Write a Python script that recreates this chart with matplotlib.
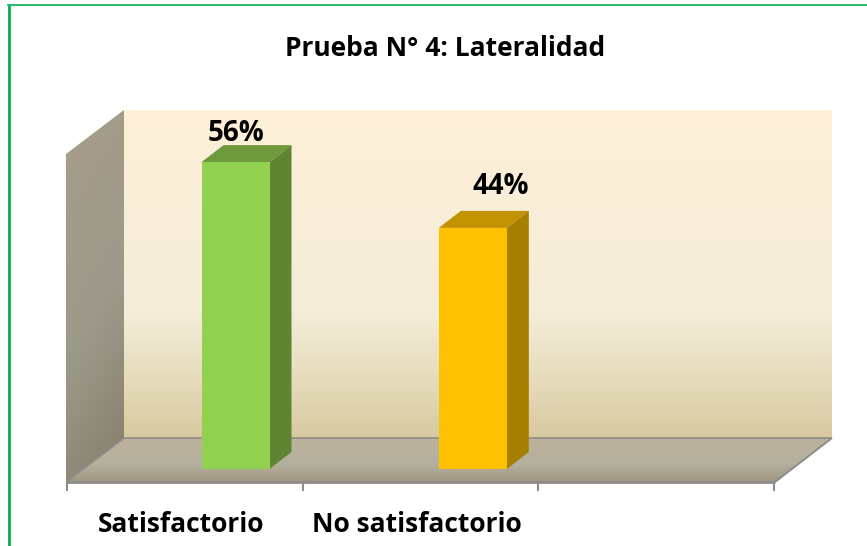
import numpy as np
import matplotlib
matplotlib.use('Agg')
import matplotlib.pyplot as plt
from matplotlib.colors import LinearSegmentedColormap
from matplotlib.patches import Polygon

categorias = ['Satisfactorio', 'No satisfactorio']
valores = [56, 44]
colores_frente = ['#92d050', '#ffc000']
colores_techo = ['#6f9a3c', '#c29200']
colores_lado = ['#5f8532', '#a67f00']
titulo = 'Prueba N° 4: Lateralidad'

plt.rcParams['font.family'] = ['Open Sans', 'DejaVu Sans']

# scale of the pseudo 3D chart, in pixels of the 867x546 picture
X0, PX_CAT = 67, 235.67
Y0, PX_PCT = 469, 5.48
W, H = 867, 546


def data(px, py):
    return (px - X0) / PX_CAT, (Y0 - py) / PX_PCT


def dx(p):
    return p / PX_CAT


def dy(p):
    return p / PX_PCT


fig = plt.figure(figsize=(W / 100, H / 100), dpi=100)
ax = fig.add_axes([0, 0, 1, 1])
ax.axis('off')
xlim = (data(0, 0)[0], data(W, 0)[0])
ylim = (data(0, H)[1], data(0, 0)[1])


def gradient(puntos, stops, angulo=False, zorder=1):
    poly = Polygon([data(*p) for p in puntos], closed=True, fc='none', ec='none',
                   transform=ax.transData)
    ax.add_patch(poly)
    cmap = LinearSegmentedColormap.from_list('g', stops)
    xs = [p[0] for p in puntos]
    ys = [p[1] for p in puntos]
    g = np.linspace(0, 1, 200)
    img = g[:, None] if not angulo else (g[:, None] * 0.8 + g[None, :] * 0.2)
    x1, y1 = data(min(xs), min(ys))
    x2, y2 = data(max(xs), max(ys))
    im = ax.imshow(img, cmap=cmap, vmin=0, vmax=1, aspect='auto',
                   extent=(x1, x2, y2, y1), zorder=zorder, interpolation='bilinear')
    im.set_clip_path(poly)


# back wall, left wall and floor
gradient([(124, 110), (832, 110), (832, 438), (124, 438)],
         [(0, '#fef0d9'), (0.62, '#f3ecd8'), (0.82, '#e6dcbc'), (1, '#d8c9a1')])
gradient([(66, 154), (124, 110), (124, 438), (66, 482)],
         [(0, '#a89e8b'), (0.55, '#9d998a'), (1, '#857d69')], angulo=True)
gradient([(66, 482), (124, 438), (832, 438), (775, 482)],
         [(0, '#bdb29b'), (0.6, '#b3b09e'), (1, '#a0967f')])

# axis lines
gris = '#8c8c8c'
for a, b, lw in [((66, 482), (775, 482), 2), ((124, 438), (832, 438), 1.2),
                 ((66, 482), (124, 438), 1.2), ((775, 482), (832, 438), 1.4)]:
    (xa, ya), (xb, yb) = data(*a), data(*b)
    ax.plot([xa, xb], [ya, yb], color=gris, lw=lw, zorder=2, solid_capstyle='butt')
ticks = np.arange(len(categorias) + 2)
ax.vlines(ticks, data(0, 482)[1], data(0, 491)[1], color=gris, lw=1.5, zorder=2)

# bars with their depth faces
pos = np.array([0.715, 1.722])
ancho = dx(68)
prof_x, prof_y = dx(22), dy(17)
ax.bar(pos, valores, width=ancho, color=colores_frente, zorder=4)
for x, v, ct, cl in zip(pos, valores, colores_techo, colores_lado):
    i, d = x - ancho / 2, x + ancho / 2
    ax.add_patch(Polygon([(i, v), (d, v), (d + prof_x, v + prof_y), (i + prof_x, v + prof_y)],
                         fc=ct, ec='none', zorder=3))
    ax.add_patch(Polygon([(d, 0), (d + prof_x, prof_y), (d + prof_x, v + prof_y), (d, v)],
                         fc=cl, ec='none', zorder=3))

# value labels, the second one was moved aside in the original
desplaz = [(0, 20.5), (20, 29.5)]
for x, v, off in zip(pos, valores, desplaz):
    ax.annotate(f'{v}%', (x, v), xytext=off, textcoords='offset points', ha='center',
                va='center', fontsize=20, fontweight='bold', color='black', zorder=5)

for i, c in enumerate(categorias):
    ax.text(i + 0.5 - dx(4), data(0, 524)[1], c, ha='center', va='center', fontsize=19,
            fontweight='bold', color='black')

ax.text(data(445, 0)[0], data(0, 48)[1], titulo, ha='center', va='center', fontsize=19,
        fontweight='bold', color='black')

# green frame of the pasted chart
verde = '#00b050'
ax.plot([data(8.5, 0)[0]] * 2, [data(0, 4.5)[1], data(0, H)[1]], color=verde, lw=2, zorder=6,
        solid_capstyle='butt')
ax.plot([data(8, 0)[0], data(W, 0)[0]], [data(0, 4.5)[1]] * 2, color=verde, lw=1.2, zorder=6)

ax.set_xlim(xlim)
ax.set_ylim(ylim)
fig.savefig('out.png', dpi=100, facecolor='white')
